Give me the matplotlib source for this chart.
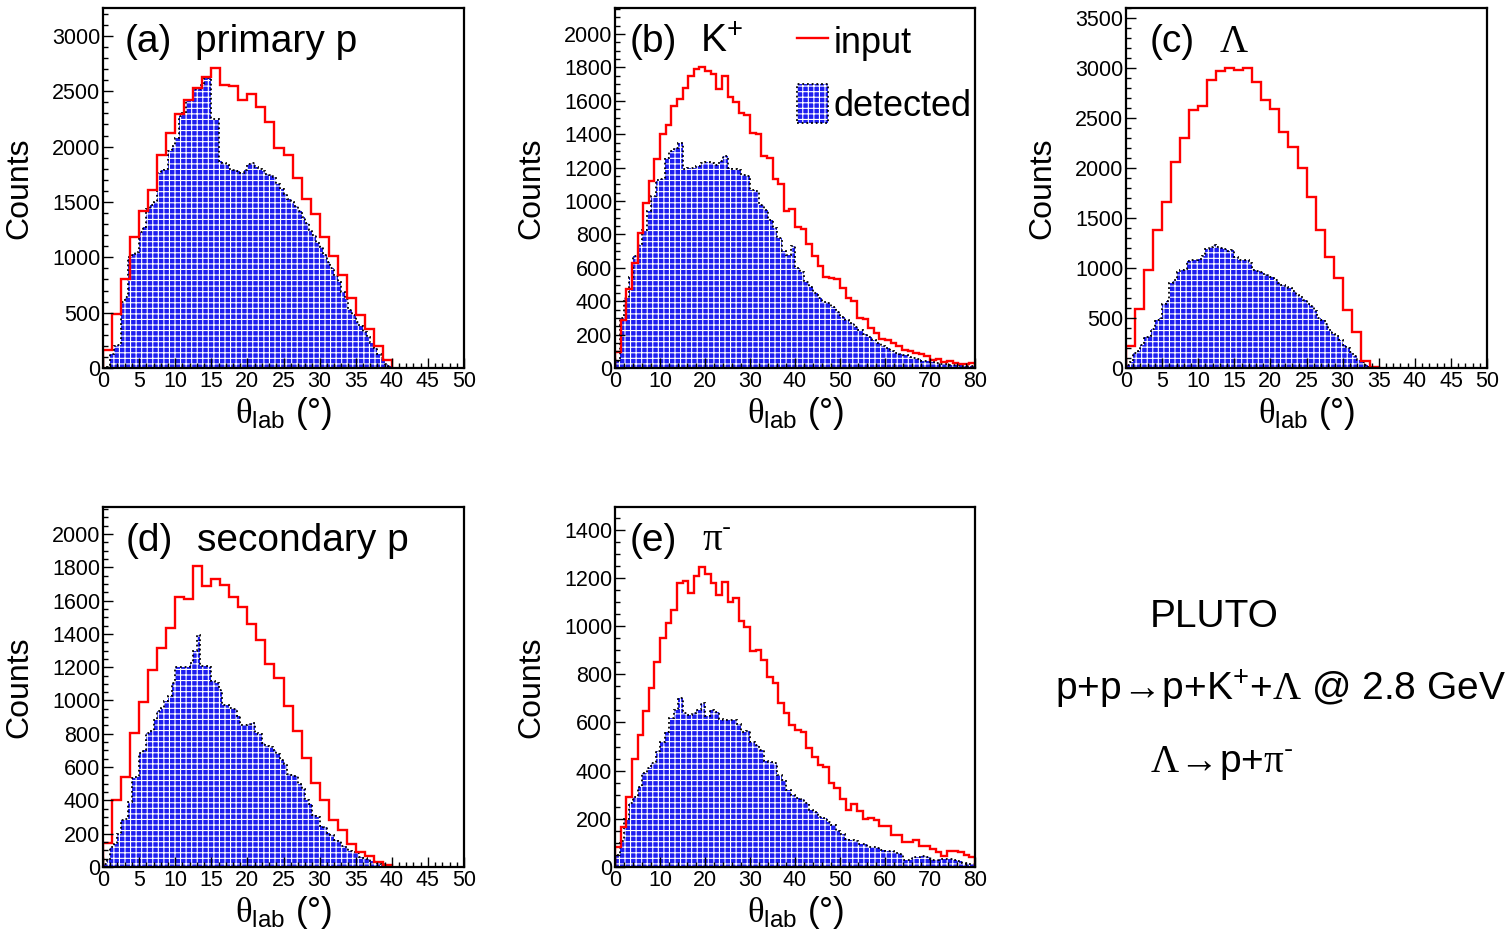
import numpy as np
import matplotlib
matplotlib.use("Agg")
import matplotlib.pyplot as plt
from matplotlib.ticker import MultipleLocator
from matplotlib.lines import Line2D
from matplotlib.patches import Patch
from matplotlib.legend_handler import HandlerTuple

plt.rcParams['font.family'] = ['Liberation Sans', 'DejaVu Sans']
plt.rcParams['mathtext.fontset'] = 'custom'
plt.rcParams['mathtext.rm'] = 'Liberation Sans'
plt.rcParams['mathtext.it'] = 'Liberation Sans:italic'
plt.rcParams['mathtext.bf'] = 'Liberation Sans:bold'
plt.rcParams['mathtext.sf'] = 'Liberation Serif'
plt.rcParams['mathtext.fallback'] = 'stixsans'
plt.rcParams['hatch.linewidth'] = 0.8

# input histograms: 1.25 deg bins starting at 0
in_width = 1.25
a_input = [160, 485, 808, 1186, 1421, 1604, 1925, 2126, 2298, 2425, 2530, 2632, 2712,
           2560, 2550, 2422, 2471, 2360, 2225, 1992, 1920, 1720, 1528, 1394, 1186,
           1015, 838, 636, 480, 352, 198, 76]
b_input = [96, 290, 476, 630, 810, 990, 1118, 1250, 1400, 1456, 1570, 1610, 1676, 1746,
           1790, 1800, 1776, 1762, 1670, 1750, 1626, 1596, 1530, 1516, 1410, 1400, 1270,
           1256, 1130, 1100, 940, 950, 845, 835, 740, 670, 610, 545, 540, 535, 480, 420,
           400, 300, 295, 240, 210, 175, 170, 150, 130, 110, 105, 90, 85, 70, 50, 52, 38,
           40, 30, 22, 25, 30]
c_input = [217, 587, 983, 1377, 1660, 2060, 2300, 2583, 2617, 2877, 2967, 2997, 2983,
           2997, 2860, 2683, 2593, 2360, 2210, 2000, 1710, 1383, 1110, 903, 577, 360, 70, 10]
d_input = [144, 401, 542, 806, 993, 1184, 1314, 1434, 1619, 1611, 1805, 1689, 1731, 1695,
           1621, 1561, 1460, 1364, 1218, 1133, 967, 818, 652, 502, 401, 285, 221, 140, 90,
           64, 30, 10]
e_input = [83, 164, 291, 450, 549, 649, 744, 851, 952, 1012, 1067, 1178, 1185, 1137, 1206,
           1245, 1217, 1178, 1130, 1181, 1099, 1116, 1019, 995, 897, 901, 859, 790, 765,
           682, 640, 589, 570, 560, 492, 457, 423, 416, 347, 326, 284, 238, 263, 233, 201,
           204, 194, 169, 169, 132, 132, 104, 104, 114, 89, 89, 76, 62, 44, 65, 65, 62, 49, 42]

# detected histograms: 0.5 deg bins for (a),(c),(d); 1 deg bins for (b),(e)
a_det = [0, 10, 130, 200, 210, 600, 640, 1000, 1030, 1050, 1230, 1270, 1440, 1470, 1500,
         1760, 1790, 1800, 1960, 2010, 2080, 2280, 2300, 2420, 2420, 2520, 2520, 2560, 2620,
         2620, 2250, 2250, 1870, 1850, 1830, 1800, 1790, 1780, 1760, 1790, 1840, 1850, 1820,
         1800, 1780, 1750, 1740, 1730, 1660, 1620, 1570, 1530, 1500, 1460, 1420, 1360, 1310,
         1250, 1200, 1130, 1090, 1020, 960, 900, 830, 780, 690, 620, 520, 480, 420, 380, 330,
         280, 230, 180, 130, 90, 40, 15]
b_det = [40, 298, 418, 548, 668, 738, 828, 938, 1028, 1128, 1132, 1258, 1298, 1318, 1348,
         1192, 1198, 1198, 1212, 1228, 1232, 1228, 1218, 1238, 1272, 1198, 1192, 1188, 1158,
         1148, 1068, 1058, 978, 948, 888, 838, 778, 698, 678, 728, 598, 578, 518, 488, 448,
         418, 398, 388, 368, 338, 308, 288, 272, 248, 228, 204, 184, 168, 148, 132, 118, 104,
         92, 84, 76, 68, 60, 52, 44, 40, 34, 30, 26, 22, 20, 18, 16, 14, 12, 12]
c_det = [27, 60, 150, 170, 227, 310, 317, 393, 483, 503, 643, 670, 850, 877, 960, 983, 993,
         1070, 1083, 1083, 1093, 1117, 1193, 1210, 1227, 1210, 1203, 1193, 1170, 1183, 1110,
         1083, 1077, 1077, 1050, 983, 970, 960, 943, 933, 910, 877, 850, 827, 810, 803, 770,
         727, 710, 677, 637, 617, 570, 503, 483, 443, 383, 343, 317, 277, 227, 203, 160, 117,
         83, 60, 27, 10]
d_det = [20, 40, 120, 136, 200, 285, 290, 391, 532, 542, 686, 702, 806, 818, 883, 939, 953,
         999, 1027, 1103, 1204, 1204, 1200, 1200, 1224, 1300, 1395, 1210, 1205, 1200, 1115,
         1105, 1060, 975, 970, 955, 950, 905, 855, 850, 860, 865, 805, 800, 745, 725, 720,
         700, 680, 645, 620, 560, 555, 545, 500, 470, 400, 380, 310, 300, 245, 240, 205, 195,
         165, 155, 125, 118, 95, 90, 85, 60, 55, 50, 38, 35, 22, 20, 10, 8]
e_det = [50, 110, 200, 265, 290, 330, 390, 410, 430, 480, 520, 560, 620, 650, 700, 640, 630,
         640, 650, 680, 625, 650, 645, 615, 610, 610, 612, 595, 560, 565, 520, 505, 485, 440,
         435, 432, 380, 360, 320, 300, 285, 282, 265, 236, 228, 208, 205, 185, 175, 150, 139,
         118, 112, 108, 97, 95, 85, 83, 80, 70, 68, 66, 58, 55, 30, 28, 40, 42, 45, 40, 30,
         28, 32, 35, 35, 30, 25, 18, 14, 12]

tags = ['(a)', '(b)', '(c)', '(d)', '(e)']
names = ['primary p', r'K$^{+}$', r'$\mathsf{Λ}$', 'secondary p', r'$\mathsf{π}^{\text{-}}$']

det_face = '#1e1ef0'
det_hatch = '+++'

fig = plt.figure(figsize=(15.1, 9.42), dpi=100)

panels = [
    # rect, input, detected, det bin width, xmax, ymax, x major, x minor, y major, y minor, tag x, name x
    ([0.0682, 0.6093, 0.2391, 0.3822], a_input, a_det, 0.5, 50, 3252, 5, 1, 500, 100, 0.061, 0.255),
    ([0.4073, 0.6093, 0.2384, 0.3822], b_input, b_det, 1.0, 80, 2156, 10, 2, 200, 50, 0.040, 0.236),
    ([0.7457, 0.6093, 0.2391, 0.3822], c_input, c_det, 0.5, 50, 3600, 5, 1, 500, 100, 0.066, 0.258),
    ([0.0682, 0.0796, 0.2391, 0.3822], d_input, d_det, 0.5, 50, 2162, 5, 1, 200, 50, 0.064, 0.260),
    ([0.4073, 0.0796, 0.2384, 0.3822], e_input, e_det, 1.0, 80, 1494, 10, 2, 200, 50, 0.040, 0.242),
]

axes = []
for i, (rect, inp, det, dw, xmax, ymax, xmaj, xmin, ymaj, ymin, tx, nx) in enumerate(panels):
    ax = fig.add_axes(rect)
    in_edges = np.arange(len(inp) + 1) * in_width
    det_edges = np.arange(len(det) + 1) * dw

    ax.stairs(det, det_edges, fill=True, facecolor=det_face, edgecolor='white',
              hatch=det_hatch, linewidth=0)
    ax.stairs(det, det_edges, color='black', linestyle=(0, (1, 1.6)), linewidth=1.3)
    ax.stairs(inp, in_edges, color='red', linewidth=1.7)

    ax.set_xlim(0, xmax)
    ax.set_ylim(0, ymax)
    ax.xaxis.set_major_locator(MultipleLocator(xmaj))
    ax.xaxis.set_minor_locator(MultipleLocator(xmin))
    ax.yaxis.set_major_locator(MultipleLocator(ymaj))
    ax.yaxis.set_minor_locator(MultipleLocator(ymin))
    ax.tick_params(which='both', direction='in', top=False, right=False,
                   labelsize=15.5, width=1.0, pad=2)
    ax.tick_params(which='major', length=7.5)
    ax.tick_params(which='minor', length=3.8)
    for s in ax.spines.values():
        s.set_linewidth(1.6)

    ax.set_ylabel('Counts', fontsize=23)
    ax.yaxis.set_label_coords(-0.19, 0.5)
    ax.set_xlabel(r'$\mathsf{θ}_{\mathrm{lab}}$ (°)', fontsize=25)
    ax.xaxis.set_label_coords(0.5, -0.075)

    ax.text(tx, 0.878, tags[i], transform=ax.transAxes, fontsize=28, va='baseline')
    ax.text(nx, 0.878, names[i], transform=ax.transAxes, fontsize=28, va='baseline')
    axes.append(ax)

# legend in panel (b)
fill_h = Patch(facecolor=det_face, edgecolor='white', hatch=det_hatch, linewidth=0)
edge_h = Patch(facecolor='none', edgecolor='black', linestyle=(0, (1, 1.6)), linewidth=1.3)
line_h = Line2D([], [], color='red', linewidth=1.7)
axes[1].legend([line_h, (fill_h, edge_h)], ['input', 'detected'],
               handler_map={tuple: HandlerTuple(ndivide=1)},
               loc='upper right', bbox_to_anchor=(0.99, 0.962), frameon=False,
               fontsize=26, handlelength=0.85, handleheight=1.3, handletextpad=0.15,
               labelspacing=0.62, borderaxespad=0.0, borderpad=0.0)

fig.text(0.7616, 0.3344, 'PLUTO', fontsize=28, va='baseline')
fig.text(0.6987, 0.2569, r'p+p$\!\rightarrow\!$p+K$^{+}$+$\mathsf{Λ}$ @ 2.8 GeV',
         fontsize=28, va='baseline')
fig.text(0.7616, 0.1805, r'$\mathsf{Λ}\!\rightarrow\!$p+$\mathsf{π}^{\text{-}}$',
         fontsize=28, va='baseline')

fig.savefig('out.png', dpi=100)
